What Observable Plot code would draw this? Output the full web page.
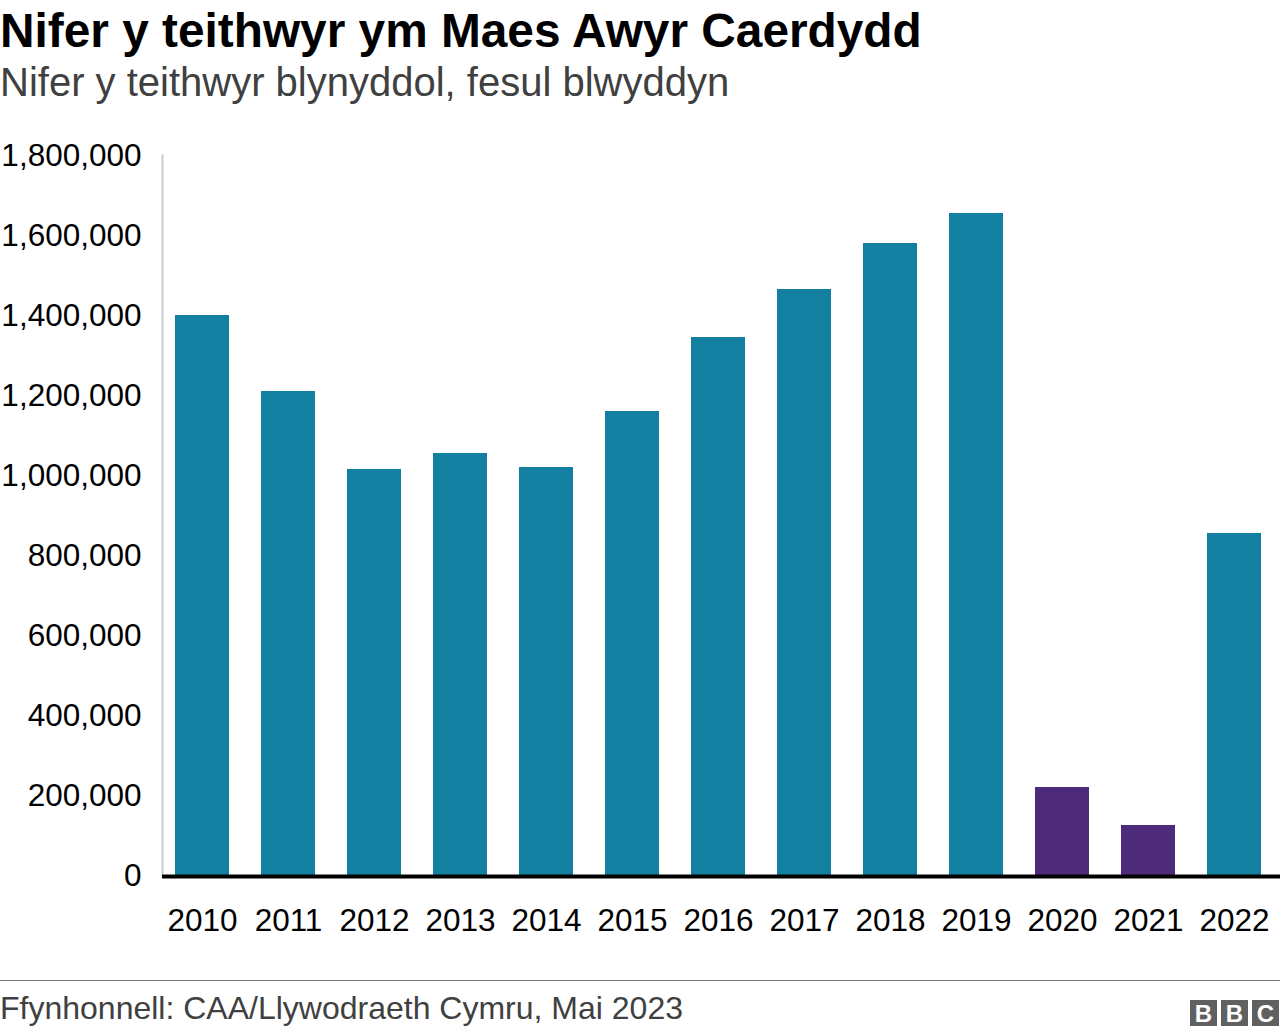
<!DOCTYPE html>
<html>
<head>
<meta charset="utf-8">
<script src="https://cdn.jsdelivr.net/npm/d3@7"></script>
<script src="https://cdn.jsdelivr.net/npm/@observablehq/plot@0.6"></script>
<style>
  html, body { margin: 0; padding: 0; background: #fff; }
  body { width: 1280px; height: 1036px; position: relative; overflow: hidden;
         font-family: "Liberation Sans", Arial, Helvetica, sans-serif; }
  .abs { position: absolute; white-space: nowrap; line-height: 1; }
  #title { left: 0; top: 7px; font-size: 47.8px; font-weight: bold; color: #000; }
  #subtitle { left: 0; top: 62px; font-size: 40px; color: #404040; }
  #chart { position: absolute; left: 0; top: 120px; }
  #rule { position: absolute; left: 0; top: 980px; width: 1280px; height: 1px; background: #777; }
  #source { left: 0; top: 992px; font-size: 32px; color: #404040; }
  #bbc { position: absolute; left: 1190px; top: 1000px; display: flex; gap: 4px; }
  #bbc span { display: block; width: 27px; height: 26px; background: #606060; color: #fff;
              font-weight: bold; font-size: 24px; line-height: 27px; text-align: center; }
</style>
</head>
<body>
<div id="title" class="abs">Nifer y teithwyr ym Maes Awyr Caerdydd</div>
<div id="subtitle" class="abs">Nifer y teithwyr blynyddol, fesul blwyddyn</div>
<div id="chart"></div>
<div id="rule"></div>
<div id="source" class="abs">Ffynhonnell: CAA/Llywodraeth Cymru, Mai 2023</div>
<div id="bbc"><span>B</span><span>B</span><span>C</span></div>
<script>
const years = ["2010","2011","2012","2013","2014","2015","2016","2017","2018","2019","2020","2021","2022"];
const passengers = [1400000,1210000,1015000,1055000,1020000,1160000,1345000,1465000,1580000,1655000,220000,125000,855000];
const period = ["arferol","arferol","arferol","arferol","arferol","arferol","arferol","arferol","arferol","arferol","pandemig","pandemig","arferol"];
const yTicks = [0,200000,400000,600000,800000,1000000,1200000,1400000,1600000,1800000];

const data = years.map((y, i) => ({year: y, value: passengers[i], period: period[i]}));

const chart = Plot.plot({
  width: 1280,
  height: 830,
  marginTop: 35,
  marginBottom: 75,
  marginLeft: 159,
  marginRight: 3,
  style: {fontFamily: "'Liberation Sans', Arial, Helvetica, sans-serif", fontSize: "31px", color: "#000", background: "transparent"},
  x: {domain: years, paddingInner: 0.372, paddingOuter: 0.186, label: null},
  y: {domain: [0, 1800000], label: null},
  color: {domain: ["arferol", "pandemig"], range: ["#1380A1", "#4d2b7a"]},
  marks: [
    Plot.frame({anchor: "left", stroke: "#cccccc", strokeWidth: 2, insetLeft: 3}),
    Plot.barY(data, {x: "year", y: "value", fill: "period"}),
    Plot.ruleY([0], {stroke: "#000", strokeWidth: 4, insetLeft: 3, insetRight: -3, dy: 1}),
    Plot.axisY({ticks: yTicks, tickFormat: d3.format(","), tickSize: 0, tickPadding: 18, label: null, fontSize: 31.5}),
    Plot.axisX({tickSize: 0, tickPadding: 33, label: null, fontSize: 31.5})
  ]
});
document.getElementById("chart").appendChild(chart);
</script>
</body>
</html>
